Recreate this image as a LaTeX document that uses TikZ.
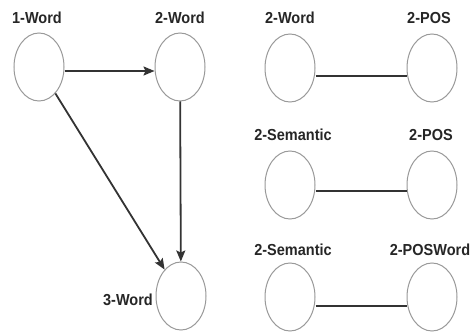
\documentclass[tikz,border=0pt]{standalone}
\usepackage{fontspec}
\setmainfont{Liberation Sans}
\usetikzlibrary{shapes.geometric,arrows.meta}
\begin{document}
\begin{tikzpicture}[x=1pt,y=-1pt,
  vnode/.style={ellipse,draw=black!40,line width=1pt,minimum width=50pt,minimum height=68pt,inner sep=0pt,fill=white},
  lbl/.style={font=\bfseries\fontsize{14.5}{16}\selectfont,text=black!85,inner sep=0pt,yscale=1.1},
  edge/.style={draw=black!80,line width=1.8pt},
  arr/.style={edge,-{Stealth[length=11pt,width=9pt,inset=2pt]}}]
\useasboundingbox (0,0) rectangle (471,334);
% left graph
\node[vnode] (w1) at (39,67) {};
\node[vnode] (w2) at (180,67) {};
\node[vnode] (w3) at (181,296) {};
\node[lbl] (l1) at (37,18) {1-Word};
\node[lbl] (l2) at (180,18) {2-Word};
\node[lbl] (l3) at (128,300) {3-Word};
\draw[arr] ([yshift=-4pt]w1.east) -- ([yshift=-4pt]w2.west);
\draw[arr] (w2) -- (w3);
\draw[arr] (w1) -- (w3);
% right pairs
\node[vnode] (a1) at (290,68) {};
\node[vnode] (a2) at (432,68) {};
\node[lbl] (la1) at (290,18) {2-Word};
\node[lbl] (la2) at (429,18) {2-POS};
\draw[edge] ([yshift=-8pt]a1.east) -- ([yshift=-8pt]a2.west);
\node[vnode] (b1) at (290,185) {};
\node[vnode] (b2) at (432,185) {};
\node[lbl] (lb1) at (293,135) {2-Semantic};
\node[lbl] (lb2) at (431,135) {2-POS};
\draw[edge] ([yshift=-6pt]b1.east) -- ([yshift=-6pt]b2.west);
\node[vnode] (c1) at (290,297) {};
\node[vnode] (c2) at (432,297) {};
\node[lbl] (lc1) at (293,250) {2-Semantic};
\node[lbl] (lc2) at (430,250) {2-POSWord};
\draw[edge] ([yshift=-9pt]c1.east) -- ([yshift=-9pt]c2.west);
\end{tikzpicture}
\end{document}
